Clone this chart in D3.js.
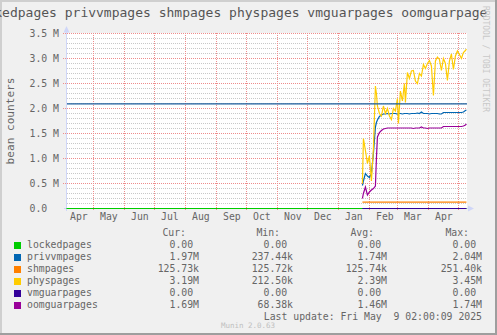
<!DOCTYPE html>
<html>
<head>
<meta charset="utf-8">
<script src="https://cdn.jsdelivr.net/npm/d3@7"></script>
<style>
  body { margin: 0; background: #f0f0f0; }
  svg { display: block; font-family: "DejaVu Sans Mono", monospace; }
  text { white-space: pre; }
</style>
</head>
<body>
<div id="chart"></div>
<script>
// sample times (daily-ish, from the rrd consolidation)
const sampleDates = [
  "2025-01-25", "2025-01-26", "2025-01-28", "2025-01-30", "2025-02-01", "2025-02-03", "2025-02-05",
  "2025-02-07", "2025-02-08", "2025-02-09", "2025-02-11", "2025-02-13", "2025-02-15", "2025-02-17",
  "2025-02-19", "2025-02-21", "2025-02-23", "2025-02-25", "2025-02-27", "2025-03-01", "2025-03-02",
  "2025-03-04", "2025-03-06", "2025-03-08", "2025-03-09", "2025-03-11", "2025-03-13", "2025-03-15",
  "2025-03-17", "2025-03-19", "2025-03-21", "2025-03-23", "2025-03-25", "2025-03-27", "2025-03-29",
  "2025-03-31", "2025-04-02", "2025-04-04", "2025-04-06", "2025-04-08", "2025-04-10", "2025-04-12",
  "2025-04-14", "2025-04-16", "2025-04-18", "2025-04-20", "2025-04-22", "2025-04-24", "2025-04-26",
  "2025-04-28", "2025-04-30", "2025-05-02", "2025-05-04", "2025-05-06", "2025-05-08", "2025-05-09"
];

// values in millions
const privvmpages = [
  0.46, 0.55, 0.70, 0.65, 0.62, 0.70, 1.10, 1.63, 1.72, 1.77,
  1.84, 1.87, 1.89, 1.89, 1.90, 1.89, 1.90, 1.90, 1.90, 1.89,
  1.90, 1.90, 1.89, 1.90, 1.90, 1.90, 1.89, 1.90, 1.90, 1.90,
  1.91, 1.90, 1.93, 1.90, 1.90, 1.90, 1.89, 1.90, 1.90, 1.90,
  1.90, 1.89, 1.89, 1.92, 1.92, 1.92, 1.92, 1.92, 1.92, 1.92,
  1.92, 1.92, 1.92, 1.93, 1.96, 1.97
];
const physpages = [
  0.50, 1.40, 1.16, 0.90, 1.05, 0.55, 1.20, 2.45, 2.30, 2.05,
  1.90, 1.85, 2.05, 1.90, 2.00, 1.85, 1.78, 2.00, 1.95, 2.20,
  1.70, 2.35, 2.15, 2.50, 2.12, 2.72, 2.60, 2.75, 2.76, 2.55,
  2.50, 2.70, 2.65, 2.88, 2.80, 2.90, 2.96, 2.85, 2.26, 2.95,
  3.03, 2.98, 2.76, 3.00, 2.90, 2.56, 2.95, 3.09, 2.78, 3.05,
  3.15, 3.08, 3.00, 3.12, 3.16, 3.19
];
const oomguarpages = [
  0.20, 0.30, 0.43, 0.27, 0.33, 0.37, 0.40, 0.45, 1.00, 1.43,
  1.52, 1.56, 1.59, 1.60, 1.61, 1.61, 1.61, 1.61, 1.61, 1.61,
  1.61, 1.61, 1.61, 1.61, 1.61, 1.61, 1.61, 1.61, 1.60, 1.61,
  1.61, 1.61, 1.63, 1.61, 1.61, 1.60, 1.61, 1.61, 1.61, 1.61,
  1.61, 1.61, 1.61, 1.64, 1.64, 1.64, 1.64, 1.64, 1.64, 1.64,
  1.64, 1.64, 1.64, 1.65, 1.67, 1.69
];
// flat series: [start, end] dates and value
const lockedDates = ["2024-04-04", "2025-05-09"];
const lockedpages = [0, 0];
const flatDates = ["2025-01-25", "2025-05-09"];
const shmpages = [0.12573, 0.12573];
const vmguarpages = [0, 0];
const barrierLevel = 2.094; // horizontal rule

const seriesNames = ["lockedpages", "privvmpages", "shmpages", "physpages", "vmguarpages", "oomguarpages"];
const seriesColors = ["#00cc00", "#0066b3", "#ff8000", "#ffcc00", "#330099", "#990099"];
const curValues = ["0.00 ", "1.97M", "125.73k", "3.19M", "0.00 ", "1.69M"];
const minValues = ["0.00 ", "237.44k", "125.72k", "212.50k", "0.00 ", "68.38k"];
const avgValues = ["0.00 ", "1.74M", "125.74k", "2.39M", "0.00 ", "1.46M"];
const maxValues = ["0.00 ", "2.04M", "251.40k", "3.45M", "0.00 ", "1.74M"];
const yTicks = [0, 0.5, 1.0, 1.5, 2.0, 2.5, 3.0, 3.5];

const W = 497, H = 335;
const textColor = "#666";
const parse = d3.utcParse("%Y-%m-%d");

const svg = d3.select("#chart").append("svg").attr("width", W).attr("height", H);

// frame
svg.append("rect").attr("width", W).attr("height", H).attr("fill", "#f0f0f0");
svg.append("path").attr("d", `M1,${H} V1 H${W}`).attr("stroke", "#cfcfcf").attr("stroke-width", 2).attr("fill", "none");
svg.append("path").attr("d", `M0,${H - 1} H${W - 1} V0`).attr("stroke", "#9e9e9e").attr("stroke-width", 2).attr("fill", "none");

const x = d3.scaleUtc()
  .domain([new Date(Date.UTC(2024, 3, 4, 2)), new Date(Date.UTC(2025, 4, 9, 2))])
  .range([66.5, 466.5]);
const y = d3.scaleLinear().domain([0, 3.5]).range([208.5, 33.5]);

// canvas
svg.append("rect").attr("x", 67).attr("y", 33).attr("width", 400).attr("height", 175).attr("fill", "#fff");

const grid = svg.append("g").attr("fill", "none").attr("stroke-dasharray", "1,1").attr("stroke-width", 1);
// minor horizontal lines
grid.selectAll("line.minor")
  .data(d3.range(1, 35).filter(i => i % 5 !== 0).map(i => i / 10))
  .join("line")
  .attr("x1", 67).attr("x2", 467)
  .attr("y1", d => y(d)).attr("y2", d => y(d))
  .attr("stroke", "#c8c8c8");
// major horizontal lines
grid.selectAll("line.major")
  .data(yTicks.filter(d => d > 0))
  .join("line")
  .attr("x1", 63).attr("x2", 467)
  .attr("y1", d => y(d)).attr("y2", d => y(d))
  .attr("stroke", "#ee8c8c");
// month lines
const months = d3.utcMonth.range(x.domain()[0], x.domain()[1]);
grid.selectAll("line.month")
  .data(months)
  .join("line")
  .attr("x1", d => Math.round(x(d) - 0.5) + 0.5).attr("x2", d => Math.round(x(d) - 0.5) + 0.5)
  .attr("y1", 33).attr("y2", 210)
  .attr("stroke", "#ee8c8c");

// axes text
const xAxis = d3.axisBottom(x)
  .tickValues(d3.utcMonth.range(new Date(Date.UTC(2024, 3, 1)), new Date(Date.UTC(2025, 4, 1))).map(m => d3.utcDay.offset(m, 15)))
  .tickFormat(d3.utcFormat("%b"))
  .tickSize(0).tickPadding(5);
svg.append("g").attr("transform", "translate(0,208)").call(xAxis)
  .call(g => g.select(".domain").remove())
  .call(g => g.selectAll("text").attr("fill", textColor).style("font-size", "9.8px").style("font-family", "DejaVu Sans Mono"));

const yAxis = d3.axisLeft(y)
  .tickValues(yTicks)
  .tickFormat(d => d === 0 ? "0.0  " : d.toFixed(1) + " M")
  .tickSize(0).tickPadding(8);
svg.append("g").attr("transform", "translate(67,0)").call(yAxis)
  .call(g => g.select(".domain").remove())
  .call(g => g.selectAll("text").attr("fill", textColor).style("font-size", "9.8px").style("font-family", "DejaVu Sans Mono"));

// series lines
const line = d3.line().x(d => x(d.date)).y(d => y(d.value));
const toPoints = (dates, vals) => dates.map((d, i) => ({date: parse(d), value: vals[i]}));
const seriesData = [
  toPoints(lockedDates, lockedpages),
  toPoints(sampleDates, privvmpages),
  toPoints(flatDates, shmpages),
  toPoints(sampleDates, physpages),
  toPoints(flatDates, vmguarpages),
  toPoints(sampleDates, oomguarpages)
];
svg.append("g").selectAll("path")
  .data(seriesData)
  .join("path")
  .attr("d", line)
  .attr("fill", "none")
  .attr("stroke", (d, i) => seriesColors[i])
  .attr("stroke-width", 1.2);

// horizontal rule
svg.append("line")
  .attr("x1", 67).attr("x2", 467)
  .attr("y1", y(barrierLevel)).attr("y2", y(barrierLevel))
  .attr("stroke", "#1a5d9c").attr("stroke-width", 1.2);

// axis lines + arrows
const axisColor = "#cfd6f8";
svg.append("line").attr("x1", 66.5).attr("x2", 66.5).attr("y1", 211).attr("y2", 30).attr("stroke", axisColor);
svg.append("line").attr("x1", 64).attr("x2", 470).attr("y1", 208.5).attr("y2", 208.5).attr("stroke", axisColor);
svg.append("path").attr("d", "M63.5,32.5 L69.5,32.5 L66.5,26 Z").attr("fill", axisColor);
svg.append("path").attr("d", "M468,205.5 L468,211.5 L474,208.5 Z").attr("fill", axisColor);
// redraw the zero-level lines over the axis
svg.append("g").selectAll("path")
  .data([0, 4])
  .join("path")
  .attr("d", i => line(seriesData[i]))
  .attr("fill", "none")
  .attr("stroke", i => seriesColors[i])
  .attr("stroke-width", 1.2);

// title (clipped like rrdtool)
svg.append("clipPath").attr("id", "titleClip").append("rect").attr("x", 0).attr("y", 0).attr("width", 487).attr("height", 30);
svg.append("text")
  .attr("clip-path", "url(#titleClip)")
  .attr("x", 233).attr("y", 17)
  .attr("text-anchor", "middle")
  .attr("fill", "#555")
  .style("font-size", "13px")
  .text(seriesNames.join(" "));

// vertical label
svg.append("text")
  .attr("transform", "translate(14,121) rotate(-90)")
  .attr("text-anchor", "middle")
  .attr("fill", textColor)
  .style("font-size", "11.1px")
  .text("bean counters");

// watermark on the right
svg.append("text")
  .attr("transform", "translate(483,59) rotate(90)")
  .attr("text-anchor", "middle")
  .attr("fill", "#c8c8c8")
  .style("font-size", "8px")
  .text("RRDTOOL / TOBI OETIKER");

// legend
const colRight = [199, 293, 387, 482];
const headers = ["Cur:", "Min:", "Avg:", "Max:"];
const legend = svg.append("g").attr("fill", textColor).style("font-size", "9.8px");
legend.selectAll("text.head")
  .data(headers)
  .join("text")
  .attr("x", (d, i) => colRight[i] - 13).attr("y", 236)
  .attr("text-anchor", "end")
  .text(d => d);

const rows = legend.selectAll("g.row")
  .data(seriesNames)
  .join("g")
  .attr("transform", (d, i) => `translate(0,${248 + i * 12})`);
rows.append("rect")
  .attr("x", 14).attr("y", -6).attr("width", 7).attr("height", 7)
  .attr("fill", (d, i) => seriesColors[i]);
rows.append("text").attr("x", 27).attr("y", 0).text(d => d);
[curValues, minValues, avgValues, maxValues].forEach((col, c) => {
  rows.append("text")
    .attr("x", colRight[c]).attr("y", 0)
    .attr("text-anchor", "end")
    .text((d, i) => col[i]);
});

legend.append("text")
  .attr("x", 482).attr("y", 320)
  .attr("text-anchor", "end")
  .text("Last update: Fri May  9 02:00:09 2025");

svg.append("text")
  .attr("x", 248).attr("y", 328)
  .attr("text-anchor", "middle")
  .attr("fill", "#c0c0c0")
  .style("font-size", "7.5px")
  .text("Munin 2.0.63");
</script>
</body>
</html>
